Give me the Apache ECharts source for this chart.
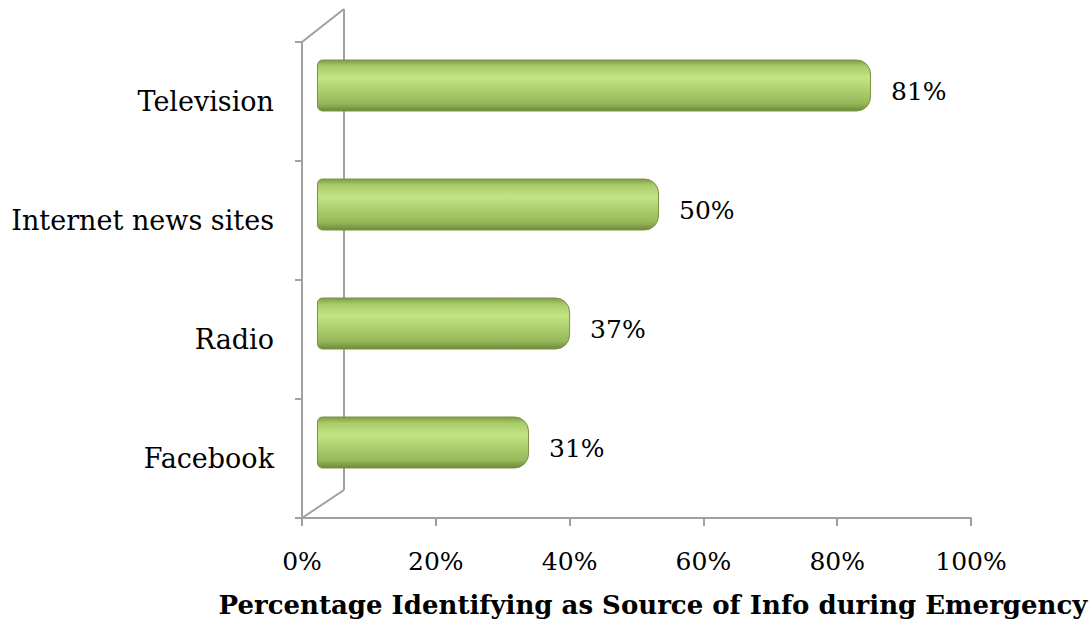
<!DOCTYPE html>
<html>
<head>
<meta charset="utf-8">
<script src="https://cdn.jsdelivr.net/npm/echarts@6/dist/echarts.min.js"></script>
<style>
  html, body { margin: 0; padding: 0; background: #fff; }
  #main { width: 1091px; height: 626px; }
</style>
</head>
<body>
<div id="main"></div>
<script>
// data, bottom to top
const categories = ['Facebook', 'Radio', 'Internet news sites', 'Television'];
const shares = [31, 37, 50, 81];
const tickValues = [0, 20, 40, 60, 80, 100];

const axisGrey = '#a0a0a0';
const serif = '"DejaVu Serif", "Liberation Serif", serif';

const chart = echarts.init(document.getElementById('main'), null, { renderer: 'svg' });

const barFill = new echarts.graphic.LinearGradient(0, 0, 0, 1, [
    { offset: 0, color: '#7f9a45' },
    { offset: 0.12, color: '#a9cb68' },
    { offset: 0.35, color: '#c4e486' },
    { offset: 0.6, color: '#abcf6d' },
    { offset: 0.85, color: '#97b85a' },
    { offset: 1, color: '#6d8838' }
]);

chart.setOption({
    animation: false,
    title: {
        text: 'Percentage Identifying as Source of Info during Emergency',
        left: 648,
        textAlign: 'center',
        top: 587,
        textStyle: { fontFamily: serif, fontWeight: 'bold', fontSize: 26, color: '#000' }
    },
    grid: [
        { left: 302, right: 120, top: 42, bottom: 108 },
        { left: 317, width: 684, top: 26, height: 476 }
    ],
    xAxis: [{
        gridIndex: 0,
        type: 'value',
        min: tickValues[0],
        max: tickValues[tickValues.length - 1],
        interval: 20,
        axisLine: { show: true, lineStyle: { color: axisGrey, width: 2 } },
        axisTick: { show: true, length: 8, lineStyle: { color: axisGrey, width: 2 } },
        splitLine: { show: false },
        axisLabel: {
            formatter: '{value}%', margin: 31,
            fontFamily: serif, fontSize: 25, color: '#000'
        }
    }, {
        gridIndex: 1,
        type: 'value',
        min: 0,
        max: 100,
        show: false
    }],
    yAxis: [{
        gridIndex: 0,
        type: 'category',
        data: categories,
        axisLine: { show: true, lineStyle: { color: axisGrey, width: 2 } },
        axisTick: { show: true, length: 7, lineStyle: { color: axisGrey, width: 2 } },
        axisLabel: { margin: 28, fontFamily: serif, fontSize: 27, color: '#000' }
    }, {
        gridIndex: 1,
        type: 'category',
        data: categories,
        show: false
    }],
    graphic: [
        // back wall of the 3D frame
        { type: 'line', shape: { x1: 344, y1: 9, x2: 344, y2: 490 }, style: { stroke: axisGrey, lineWidth: 2 } },
        { type: 'line', shape: { x1: 302, y1: 42, x2: 344, y2: 9 }, style: { stroke: axisGrey, lineWidth: 2 } },
        { type: 'line', shape: { x1: 302, y1: 518, x2: 344, y2: 490 }, style: { stroke: axisGrey, lineWidth: 2 } }
    ],
    series: [{
        type: 'bar',
        xAxisIndex: 1,
        yAxisIndex: 1,
        data: shares,
        barWidth: 52,
        itemStyle: {
            color: barFill,
            borderRadius: [5, 14, 14, 5],
            borderColor: '#7c9443',
            borderWidth: 1
        },
        label: {
            show: true,
            position: 'right',
            distance: 20,
            offset: [0, 6],
            formatter: '{c}%',
            fontFamily: serif,
            fontSize: 25,
            color: '#000'
        }
    }]
});
</script>
</body>
</html>
